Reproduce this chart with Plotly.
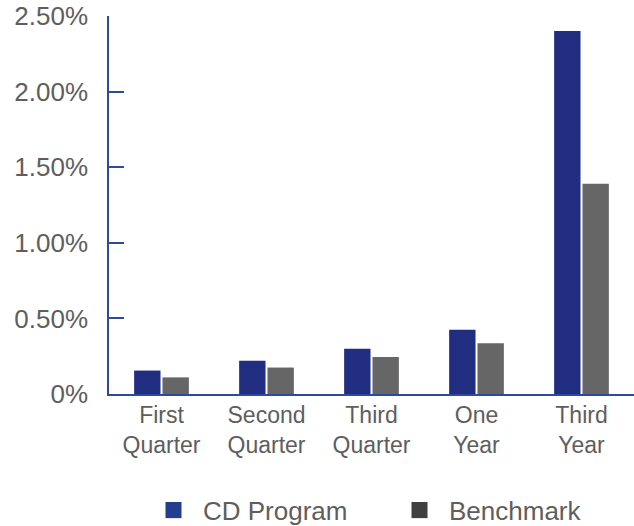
import plotly.graph_objects as go

categories = ["First<br>Quarter", "Second<br>Quarter", "Third<br>Quarter", "One<br>Year", "Third<br>Year"]
cd_program = [0.155, 0.22, 0.30, 0.425, 2.40]
benchmark = [0.11, 0.175, 0.245, 0.335, 1.39]
tick_vals = [0, 0.5, 1.0, 1.5, 2.0, 2.5]
tick_text = ["0%", "0.50%", "1.00%", "1.50%", "2.00%", "2.50%"]
series_names = ["CD Program", "Benchmark"]
legend_colors = ["#233d8f", "#404040"]
legend_ids = ["legend", "legend2"]

fig = go.Figure()
fig.add_trace(go.Bar(name=series_names[0], x=categories, y=cd_program, showlegend=False,
                     marker=dict(color="#212d80", line=dict(width=0))))
fig.add_trace(go.Bar(name=series_names[1], x=categories, y=benchmark, showlegend=False,
                     marker=dict(color="#666666", line=dict(width=0))))
for name, col, lid in zip(series_names, legend_colors, legend_ids):
    fig.add_trace(go.Scatter(name=name, x=[None], y=[None], mode="markers", legend=lid,
                             marker=dict(symbol="square", size=24, color=col)))

axis_blue = "#2d4a9e"
text_gray = "#5e5e5e"
leg_common = dict(orientation="h", xref="container", yref="container",
                  xanchor="left", y=0.03, yanchor="middle",
                  font=dict(size=26, color=text_gray), itemwidth=49,
                  bgcolor="rgba(0,0,0,0)")
fig.update_layout(
    width=634, height=526,
    margin=dict(l=109, r=0, t=16, b=132, autoexpand=False),
    paper_bgcolor="white", plot_bgcolor="white",
    barmode="group", bargap=0.46, bargroupgap=0.07,
    font=dict(family="Liberation Sans, Arial, sans-serif", color=text_gray),
    showlegend=True,
    legend=dict(x=144 / 634, **leg_common),
    legend2=dict(x=390 / 634, **leg_common),
    xaxis=dict(showline=True, linecolor=axis_blue, linewidth=1.5, ticks="",
               tickfont=dict(size=23, color=text_gray), showgrid=False, automargin=False),
    yaxis=dict(range=[0, 2.5], showline=True, linecolor=axis_blue, linewidth=1.5,
               ticks="inside", ticklen=15, tickwidth=1.5, tickcolor=axis_blue,
               tickvals=tick_vals, ticktext=tick_text, showgrid=False, zeroline=False,
               tickfont=dict(size=26, color=text_gray), ticklabelstandoff=14, automargin=False),
)
fig.write_html("out.html", config={"displayModeBar": False},
               post_script="document.body.style.margin='0';")
